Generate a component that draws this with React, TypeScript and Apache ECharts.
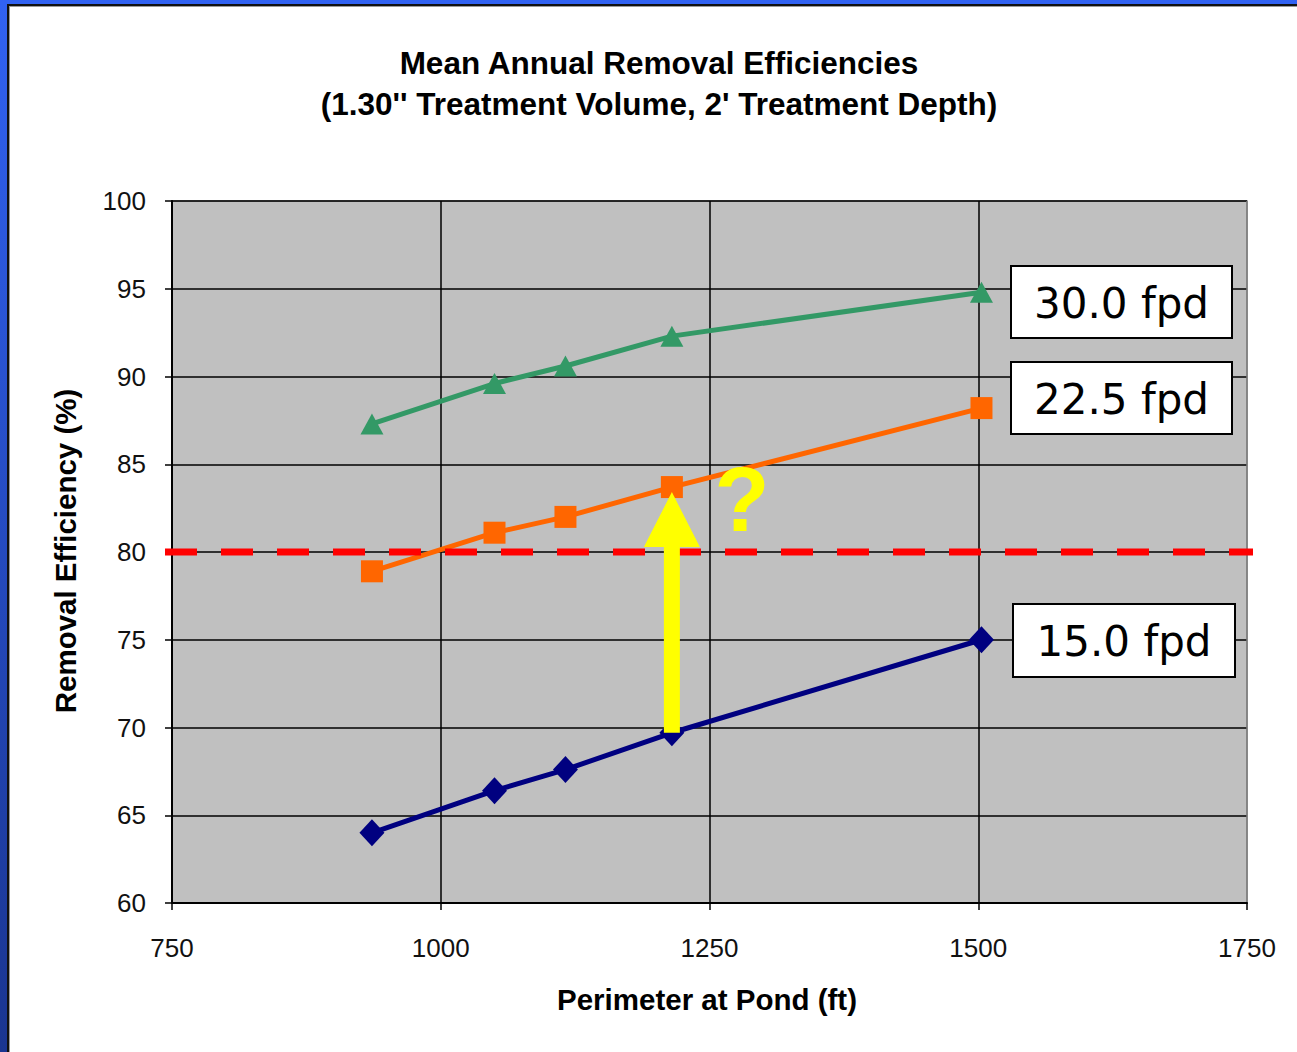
import React, { useEffect, useRef } from "react";
import * as echarts from "echarts";

const perimeter = [936, 1050, 1116, 1215, 1503];
const eff15 = [64.0, 66.4, 67.6, 69.7, 75.0];
const eff225 = [78.9, 81.1, 82.0, 83.7, 88.2];
const eff30 = [87.3, 89.6, 90.6, 92.3, 94.8];
const seriesNames = ["15.0 fpd", "22.5 fpd", "30.0 fpd"];
const targetEfficiency = 80;
const arrowPerimeter = 1215;
const arrowFrom = 69.7;
const arrowTo = 83.7;

const W = 1297;
const H = 1052;

function pairs(ys: number[]) {
  return perimeter.map((x, i) => [x, ys[i]]);
}

export default function App() {
  const ref = useRef<HTMLDivElement>(null);
  useEffect(() => {
    if (!ref.current) return;
    const chart = echarts.init(ref.current, null, { renderer: "svg", width: W, height: H });
    const tickFont = { fontFamily: "Liberation Sans", fontSize: 26, color: "#111" };
    chart.setOption({
      animation: false,
      backgroundColor: "#ffffff",
      grid: {
        left: 172,
        right: W - 1247,
        top: 201,
        bottom: H - 903,
        show: true,
        backgroundColor: "#C0C0C0",
        borderColor: "#808080",
        borderWidth: 1.5,
      },
      xAxis: {
        type: "value",
        min: 750,
        max: 1750,
        interval: 250,
        axisLine: { show: true, onZero: false, lineStyle: { color: "#000", width: 2 } },
        axisTick: { show: true, inside: false, length: 7, lineStyle: { color: "#000", width: 1.5 } },
        axisLabel: { ...tickFont, margin: 32, formatter: (v: number) => String(v) },
        splitLine: {
          show: true,
          lineStyle: { color: ["#808080", "#000", "#000", "#000", "#808080"], width: 1.5 },
        },
      },
      yAxis: {
        type: "value",
        min: 60,
        max: 100,
        interval: 5,
        axisLine: { show: true, onZero: false, lineStyle: { color: "#000", width: 2 } },
        axisTick: { show: true, inside: false, length: 7, lineStyle: { color: "#000", width: 1.5 } },
        axisLabel: { ...tickFont, margin: 26, formatter: (v: number) => String(v) },
        splitLine: { show: true, lineStyle: { color: "#000", width: 1.5 } },
      },
      series: [
        {
          name: seriesNames[0],
          type: "line",
          data: pairs(eff15),
          symbol: "diamond",
          symbolSize: [25, 27],
          lineStyle: { color: "#000080", width: 5 },
          itemStyle: { color: "#000080" },
          z: 3,
        },
        {
          name: seriesNames[1],
          type: "line",
          data: pairs(eff225),
          symbol: "rect",
          symbolSize: 22,
          lineStyle: { color: "#FF6600", width: 5 },
          itemStyle: { color: "#FF6600" },
          z: 3,
        },
        {
          name: seriesNames[2],
          type: "line",
          data: pairs(eff30),
          symbol: "triangle",
          symbolSize: [23, 21],
          lineStyle: { color: "#339966", width: 5 },
          itemStyle: { color: "#339966" },
          z: 3,
        },
      ],
    });

    const toPx = (x: number, y: number) => chart.convertToPixel({ gridIndex: 0 }, [x, y]) as number[];
    const left = toPx(750, 60)[0];
    const right = toPx(1750, 60)[0];
    const yTarget = toPx(750, targetEfficiency)[1];
    const pFrom = toPx(arrowPerimeter, arrowFrom);
    const pTo = toPx(arrowPerimeter, arrowTo);
    const tipY = pTo[1] + 5;
    const baseY = tipY + 55;

    const box = (x: number, y: number, w: number, h: number, text: string) => ({
      type: "group",
      z: 20,
      children: [
        { type: "rect", shape: { x, y, width: w, height: h }, style: { fill: "#fff", stroke: "#000", lineWidth: 2 } },
        {
          type: "text",
          x: x + w / 2,
          y: y + h / 2 + 1,
          style: {
            text,
            fontFamily: "DejaVu Sans",
            fontSize: 42,
            fill: "#000",
            align: "center",
            verticalAlign: "middle",
          },
        },
      ],
    });

    const boldText = (text: string, x: number, y: number, size: number, rotation = 0) => ({
      type: "text",
      x,
      y,
      rotation,
      style: {
        text,
        fontFamily: "Liberation Sans",
        fontWeight: "bold",
        fontSize: size,
        fill: "#000",
        align: "center",
        verticalAlign: "middle",
      },
    });

    chart.setOption({
      graphic: [
        // frame
        {
          type: "rect",
          shape: { x: 0, y: 0, width: 7, height: H },
          style: {
            fill: new echarts.graphic.LinearGradient(0, 0, 0, 1, [
              { offset: 0, color: "#3162F2" },
              { offset: 1, color: "#1A3590" },
            ]),
          },
          z: 30,
        },
        { type: "rect", shape: { x: 0, y: 0, width: W, height: 4 }, style: { fill: "#3162F2" }, z: 30 },
        { type: "rect", shape: { x: 7, y: 4, width: 2, height: H }, style: { fill: "#111" }, z: 30 },
        { type: "rect", shape: { x: 7, y: 4, width: W, height: 2 }, style: { fill: "#111" }, z: 30 },
        { type: "rect", shape: { x: 9, y: 6, width: 1, height: H }, style: { fill: "#999" }, z: 30 },
        { type: "rect", shape: { x: 9, y: 6, width: W, height: 1 }, style: { fill: "#999" }, z: 30 },
        // titles
        boldText("Mean Annual Removal Efficiencies", 659, 63, 31.5),
        boldText("(1.30'' Treatment Volume, 2' Treatment Depth)", 659, 104, 31.5),
        boldText("Perimeter at Pond (ft)", 707, 999, 29.5),
        boldText("Removal Efficiency (%)", 65, 551, 29.5, Math.PI / 2),
        // target dashed line
        {
          type: "line",
          z: 10,
          shape: { x1: left - 7, y1: yTarget, x2: right + 6, y2: yTarget },
          style: { stroke: "#FF0000", lineWidth: 7, lineDash: [32, 24] },
        },
        // arrow
        {
          type: "rect",
          z: 12,
          shape: { x: pFrom[0] - 8, y: baseY - 1, width: 16, height: pFrom[1] - baseY + 1 },
          style: { fill: "#FFFF00" },
        },
        {
          type: "polygon",
          z: 12,
          shape: {
            points: [
              [pTo[0], tipY],
              [pTo[0] + 28, baseY],
              [pTo[0] - 28, baseY],
            ],
          },
          style: { fill: "#FFFF00" },
        },
        {
          type: "text",
          z: 12,
          x: 742,
          y: 500,
          style: {
            text: "?",
            fontFamily: "Liberation Sans",
            fontWeight: "bold",
            fontSize: 90,
            fill: "#FFFF00",
            align: "center",
            verticalAlign: "middle",
          },
        },
        box(1011, 266, 221, 72, seriesNames[2]),
        box(1011, 362, 221, 72, seriesNames[1]),
        box(1013, 604, 222, 73, seriesNames[0]),
      ],
    });
    return () => chart.dispose();
  }, []);
  return (
    <div style={{ position: "fixed", left: 0, top: 0, width: W, height: H, background: "#fff" }}>
      <div ref={ref} style={{ width: W, height: H }} />
    </div>
  );
}
